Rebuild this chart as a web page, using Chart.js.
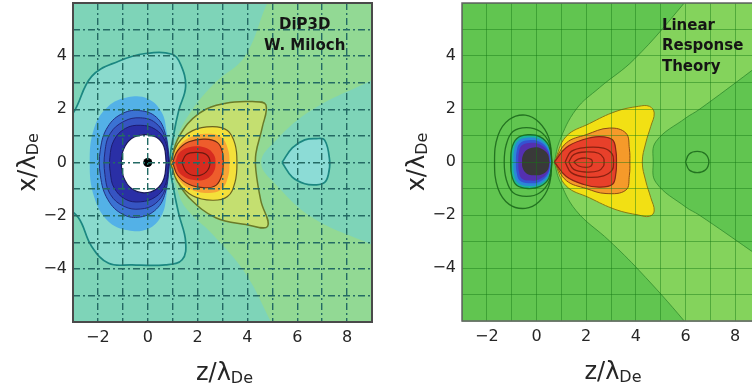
<!DOCTYPE html>
<html>
<head>
<meta charset="utf-8">
<title>Wake potential: DiP3D vs linear response</title>
<script src="https://cdn.jsdelivr.net/npm/chart.js@4.4.1/dist/chart.umd.min.js"></script>
<style>
  html, body { margin: 0; padding: 0; background: #fff; overflow: hidden; width: 752px; height: 386px; }
  .panel { position: absolute; top: 0; }
  #simPanel { left: 0; }
  #theoryPanel { left: 380px; }
</style>
</head>
<body>
<div class="panel" id="simPanel"><canvas id="simCanvas" width="380" height="386"></canvas></div>
<div class="panel" id="theoryPanel"><canvas id="theoryCanvas" width="392" height="386"></canvas></div>
<script>
// ---- contour outlines, [z, x] in units of lambda_De ----

// DiP3D (simulation)
const simCone = [[0.92, 0], [1.2, 1.0], [1.8, 2.0], [2.7, 3.0], [3.9, 4.0], [4.8, 6.0], [5.2, 6.6], [9.6, 6.6], [9.6, 3.4],
  [9, 3.1], [6.6, 1.98], [5.15, 0.84], [4.55, 0], [5.15, -0.84], [6.62, -2.08], [9, -3.09], [9.6, -3.3], [9.6, -6.6],
  [5.3, -6.6], [4.95, -6.0], [3.94, -4.2], [2.6, -2.7], [1.52, -1.7], [1.15, -0.9], [0.92, 0]];
const simLobe = [[-3.4, -1.6], [-2.78, -2.08], [-2.25, -3.16], [-1.57, -3.79], [-0.63, -3.85], [0.71, -3.85], [1.38, -3.66],
  [1.52, -2.97], [1.25, -1.95], [1.05, -1.06], [0.89, 0], [1.05, 1.1], [1.25, 1.98], [1.52, 2.86], [1.32, 3.69],
  [0.98, 4.07], [-0.09, 4.1], [-1.17, 3.81], [-2.25, 3.24], [-3.0, 1.85], [-3.4, 1.6]];
const simTailLobe = [[5.39, 0], [5.8, 0.55], [6.3, 0.85], [6.76, 0.9], [7.1, 0.84], [7.3, 0.07], [7.25, -0.45],
  [7.1, -0.75], [6.76, -0.84], [6.3, -0.8], [5.8, -0.55], [5.39, 0]];
const simPos1 = [[0.91, 0], [1.25, 0.96], [2.06, 1.85], [3.13, 2.23], [4.2, 2.29], [4.74, 2.17], [4.6, 1.34], [4.34, 0.33],
  [4.34, -0.3], [4.54, -1.44], [4.81, -2.4], [3.94, -2.33], [2.73, -2.08], [1.65, -1.32], [1.18, -0.68], [0.91, 0]];
const simPos2 = [[0.92, 0], [1.2, 0.7], [1.8, 1.2], [2.6, 1.35], [3.2, 1.2], [3.5, 0.7], [3.58, 0], [3.5, -0.75],
  [3.2, -1.28], [2.6, -1.42], [1.8, -1.25], [1.2, -0.72], [0.92, 0]];
const simPos3 = [[0.95, 0], [1.2, 0.55], [1.7, 0.95], [2.4, 1.08], [2.95, 0.95], [3.22, 0.5], [3.28, 0], [3.22, -0.55],
  [2.95, -1.02], [2.4, -1.15], [1.7, -1.0], [1.2, -0.58], [0.95, 0]];
const simPos4 = [[1.0, 0], [1.2, 0.45], [1.65, 0.78], [2.3, 0.88], [2.8, 0.75], [3.0, 0.38], [3.03, 0], [2.98, -0.45],
  [2.75, -0.85], [2.3, -0.95], [1.65, -0.82], [1.2, -0.48], [1.0, 0]];
const simPos5 = [[1.1, 0], [1.3, 0.4], [1.8, 0.6], [2.35, 0.55], [2.65, 0.3], [2.72, 0], [2.65, -0.35], [2.35, -0.62],
  [1.8, -0.65], [1.3, -0.42], [1.1, 0]];
const simPos6 = [[1.37, 0], [1.55, 0.3], [1.95, 0.38], [2.35, 0.3], [2.5, 0], [2.35, -0.35], [1.95, -0.5], [1.55, -0.35], [1.37, 0]];
const simNeg1 = [[0.9, 0], [0.75, 1.2], [0.55, 1.9], [0.0, 2.4], [-0.8, 2.45], [-1.6, 2.1], [-2.15, 1.3], [-2.33, 0],
  [-2.15, -1.3], [-1.6, -2.2], [-0.8, -2.55], [0.0, -2.5], [0.55, -2.0], [0.75, -1.25], [0.9, 0]];
const simNeg2 = [[0.88, 0], [0.7, 1.1], [0.35, 1.7], [-0.3, 1.95], [-1.0, 1.85], [-1.6, 1.35], [-1.9, 0.5], [-1.9, -0.5],
  [-1.6, -1.4], [-1.0, -1.95], [-0.3, -2.05], [0.35, -1.75], [0.7, -1.15], [0.88, 0]];
const simNeg3 = [[0.86, 0], [0.7, 0.95], [0.3, 1.5], [-0.3, 1.68], [-0.95, 1.55], [-1.5, 1.1], [-1.72, 0.4], [-1.72, -0.45],
  [-1.5, -1.2], [-0.95, -1.65], [-0.3, -1.75], [0.3, -1.55], [0.7, -1.0], [0.86, 0]];
const simNeg4 = [[0.84, 0], [0.7, 0.8], [0.3, 1.25], [-0.3, 1.4], [-0.9, 1.28], [-1.35, 0.85], [-1.52, 0.2], [-1.5, -0.4],
  [-1.35, -0.95], [-0.9, -1.38], [-0.3, -1.48], [0.3, -1.3], [0.7, -0.85], [0.84, 0]];
const simCore = [[0.74, 0], [0.65, 0.6], [0.35, 0.95], [-0.15, 1.05], [-0.65, 0.9], [-0.97, 0.5], [-1.06, 0],
  [-0.97, -0.55], [-0.65, -0.98], [-0.15, -1.14], [0.35, -1.0], [0.65, -0.6], [0.74, 0]];
const grain = [[0, 0]];

// Linear response theory
const lrtCone = [[0.72, 0], [0.92, 0.77], [1.59, 1.98], [2.53, 2.8], [3.94, 3.88], [5.95, 6.0], [6.4, 6.6], [9.6, 6.6],
  [9.6, 4.0], [9, 3.7], [8.64, 3.43], [6.55, 1.98], [6.01, 1.66], [4.81, 0.77], [4.7, 0], [4.81, -0.77], [6.01, -1.7],
  [6.55, -2.0], [8.64, -3.35], [9, -3.6], [9.6, -4.0], [9.6, -6.6], [6.4, -6.6], [5.95, -6.0], [4.14, -4.1],
  [2.93, -2.97], [1.59, -1.83], [0.92, -0.68], [0.72, 0]];
const lrtTailRing = [[6.0, 0], [6.15, 0.3], [6.47, 0.4], [6.8, 0.3], [6.94, 0], [6.8, -0.3], [6.47, -0.4], [6.15, -0.3], [6.0, 0]];
const lrtNegLine1 = [[0.62, 0], [0.5, 0.9], [0.1, 1.5], [-0.45, 1.77], [-1.1, 1.6], [-1.55, 1.0], [-1.69, 0], [-1.55, -1.0],
  [-1.1, -1.6], [-0.45, -1.75], [0.1, -1.5], [0.5, -0.9], [0.62, 0]];
const lrtNegLine2 = [[0.62, 0], [0.52, 0.7], [0.15, 1.15], [-0.4, 1.3], [-0.95, 1.15], [-1.22, 0.65], [-1.3, 0],
  [-1.22, -0.65], [-0.95, -1.15], [-0.4, -1.3], [0.15, -1.15], [0.52, -0.7], [0.62, 0]];
const lrtNeg1 = [[0.6, 0], [0.5, 0.6], [0.15, 0.95], [-0.35, 1.03], [-0.8, 0.88], [-1.0, 0.5], [-1.04, 0], [-1.0, -0.5],
  [-0.8, -0.88], [-0.35, -1.0], [0.15, -0.92], [0.5, -0.6], [0.6, 0]];
const lrtNeg2 = [[0.58, 0], [0.48, 0.52], [0.12, 0.86], [-0.35, 0.92], [-0.75, 0.78], [-0.9, 0.45], [-0.93, 0],
  [-0.9, -0.45], [-0.75, -0.78], [-0.35, -0.9], [0.12, -0.84], [0.48, -0.52], [0.58, 0]];
const lrtNeg3 = [[0.56, 0], [0.46, 0.46], [0.1, 0.77], [-0.33, 0.82], [-0.68, 0.7], [-0.8, 0.4], [-0.83, 0],
  [-0.8, -0.4], [-0.68, -0.7], [-0.33, -0.8], [0.1, -0.75], [0.46, -0.46], [0.56, 0]];
const lrtNeg4 = [[0.55, 0], [0.45, 0.4], [0.1, 0.68], [-0.3, 0.72], [-0.6, 0.62], [-0.71, 0.35], [-0.73, 0],
  [-0.71, -0.35], [-0.6, -0.62], [-0.3, -0.7], [0.1, -0.66], [0.45, -0.4], [0.55, 0]];
const lrtCore = [[0.52, 0], [0.45, 0.3], [0.2, 0.5], [-0.1, 0.55], [-0.4, 0.45], [-0.56, 0.22], [-0.58, 0],
  [-0.56, -0.22], [-0.4, -0.43], [-0.1, -0.5], [0.2, -0.47], [0.45, -0.3], [0.52, 0]];
const lrtPos1 = [[0.72, 0], [1.19, 0.96], [2.13, 1.45], [3.2, 1.91], [4.1, 2.1], [4.55, 2.1], [4.74, 1.85], [4.6, 1.34],
  [4.4, 0.72], [4.26, 0], [4.4, -0.72], [4.6, -1.34], [4.74, -1.85], [4.55, -2.05], [4.1, -2.0], [3.2, -1.8],
  [2.13, -1.35], [1.19, -0.9], [0.72, 0]];
const lrtPos2 = [[0.72, 0], [1.2, 0.72], [2.0, 1.03], [2.93, 1.28], [3.6, 1.09], [3.74, 0.5], [3.76, 0], [3.74, -0.5],
  [3.6, -1.06], [2.8, -1.19], [2.0, -1.0], [1.2, -0.7], [0.72, 0]];
const lrtPos3 = [[0.72, 0], [1.2, 0.55], [1.9, 0.85], [2.53, 0.96], [3.06, 0.84], [3.2, 0.4], [3.22, 0], [3.2, -0.4],
  [3.06, -0.84], [2.53, -0.95], [1.9, -0.85], [1.2, -0.55], [0.72, 0]];
const lrtPos4 = [[1.15, 0], [1.4, 0.4], [2.0, 0.55], [2.7, 0.52], [3.05, 0.3], [3.1, 0], [3.05, -0.3], [2.7, -0.52],
  [2.0, -0.57], [1.4, -0.4], [1.15, 0]];
const lrtPos5 = [[1.3, 0], [1.5, 0.28], [2.0, 0.38], [2.5, 0.33], [2.7, 0.15], [2.72, 0], [2.7, -0.15], [2.5, -0.33],
  [2.0, -0.38], [1.5, -0.28], [1.3, 0]];
const lrtPos6 = [[1.5, 0], [1.7, 0.12], [2.0, 0.15], [2.2, 0.1], [2.25, 0], [2.2, -0.15], [2.0, -0.2], [1.7, -0.15], [1.5, 0]];

// axes
const zTickLabels = [-2, 0, 2, 4, 6, 8];
const xTickLabels = [-4, -2, 0, 2, 4];
const simNote = ['DiP3D', 'W. Miloch'];
const lrtNote = ['Linear', 'Response', 'Theory'];

const FONT = '"DejaVu Sans", Verdana, sans-serif';
const INK = '#262626';
const fmt = v => (v < 0 ? '\u2212' + Math.abs(v) : String(v));

// one filled / outlined contour band per entry, first entry at the bottom
function makeDatasets(layers) {
  return layers.map((l, i) => ({
    data: l.shape.map(([z, x]) => ({ x: z, y: x })),
    showLine: !l.dot,
    fill: l.fill ? 'shape' : false,
    backgroundColor: l.dot ? l.fill : (l.fill || 'transparent'),
    borderColor: l.line || 'transparent',
    borderWidth: l.line ? (l.width || 1.2) : 0,
    tension: 0.4,
    pointRadius: l.dot ? l.dot : 0,
    order: layers.length - i
  }));
}

function drawSubTitle(ctx, main, sub, x, y, angle) {
  ctx.save();
  ctx.translate(x, y);
  ctx.rotate(angle);
  ctx.font = '24px ' + FONT;
  const w1 = ctx.measureText(main).width;
  ctx.font = '16px ' + FONT;
  const w2 = ctx.measureText(sub).width;
  const x0 = -(w1 + w2) / 2;
  ctx.fillStyle = INK;
  ctx.textAlign = 'left';
  ctx.textBaseline = 'alphabetic';
  ctx.font = '24px ' + FONT;
  ctx.fillText(main, x0, 0);
  ctx.font = '16px ' + FONT;
  ctx.fillText(sub, x0 + w1, 3);
  ctx.restore();
}

const panelDecor = {
  id: 'panelDecor',
  beforeDatasetsDraw(chart, args, o) {
    const { ctx, chartArea: a } = chart;
    ctx.save();
    ctx.fillStyle = o.background;
    ctx.fillRect(a.left, a.top, a.width, a.height);
    ctx.restore();
  },
  afterDraw(chart, args, o) {
    const { ctx, chartArea: a, scales } = chart;
    ctx.save();
    ctx.strokeStyle = o.frame;
    ctx.lineWidth = o.frameWidth;
    ctx.strokeRect(a.left, a.top, a.width, a.height);

    ctx.fillStyle = '#151515';
    ctx.font = 'bold 15px ' + FONT;
    ctx.textAlign = o.noteAlign;
    ctx.textBaseline = 'middle';
    const nx = scales.x.getPixelForValue(o.noteAt[0]);
    const ny = scales.y.getPixelForValue(o.noteAt[1]);
    o.note.forEach((t, i) => ctx.fillText(t, nx, ny + i * o.noteGap));
    ctx.restore();

    drawSubTitle(ctx, 'z/\u03bb', 'De', (a.left + a.right) / 2 + 2, a.bottom + 58, 0);
    drawSubTitle(ctx, 'x/\u03bb', 'De', a.left - 38, (a.top + a.bottom) / 2, -Math.PI / 2);
  }
};

function makePanel(canvas, layers, p) {
  return new Chart(canvas, {
    type: 'scatter',
    data: { datasets: makeDatasets(layers) },
    options: {
      responsive: false,
      animation: false,
      events: [],
      layout: { autoPadding: false, padding: { top: 3, right: p.padRight, bottom: 0, left: 0 } },
      scales: {
        x: {
          type: 'linear', min: -3, max: 9,
          afterFit: s => { s.height = p.xHeight; s.paddingLeft = 0; s.paddingRight = 0; },
          ticks: {
            stepSize: 1, autoSkip: false, maxRotation: 0, padding: 6, color: INK,
            font: { family: FONT, size: 16 },
            callback: v => (zTickLabels.includes(v) ? fmt(v) : '')
          },
          grid: { z: 1, color: p.gridColor, lineWidth: p.gridWidth, drawTicks: false },
          border: { display: false, dash: p.gridDash }
        },
        y: {
          type: 'linear', min: -6, max: 6,
          afterFit: s => { s.width = p.yWidth; s.paddingTop = 0; s.paddingBottom = 0; },
          ticks: {
            stepSize: 1, autoSkip: false, padding: 6, color: INK,
            font: { family: FONT, size: 16 },
            callback: v => (xTickLabels.includes(v) ? fmt(v) : '')
          },
          grid: { z: 1, color: p.gridColor, lineWidth: p.gridWidth, drawTicks: false },
          border: { display: false, dash: p.gridDash }
        }
      },
      plugins: {
        legend: { display: false },
        tooltip: { enabled: false },
        panelDecor: p.decor
      }
    },
    plugins: [panelDecor]
  });
}

// left: DiP3D simulation
const teal = '#1b8781';
makePanel(document.getElementById('simCanvas'), [
  { shape: simCone, fill: '#92d994' },
  { shape: simLobe, fill: '#8adacd', line: teal, width: 1.7 },
  { shape: simTailLobe, fill: '#8cdcd6', line: teal, width: 1.7 },
  { shape: simPos1, fill: '#c4df70', line: '#6a7a28', width: 1.5 },
  { shape: simPos2, fill: '#f4e03a', line: '#6a6420', width: 1.2 },
  { shape: simPos3, fill: '#f7a535' },
  { shape: simPos4, fill: '#ee5d2c', line: '#6a2a12', width: 1.1 },
  { shape: simPos5, fill: '#d72b1f' },
  { shape: simPos6, line: '#6a1a10', width: 1.1 },
  { shape: simNeg1, fill: '#53b1e7' },
  { shape: simNeg2, fill: '#3b72d3', line: '#22307f', width: 1 },
  { shape: simNeg3, fill: '#3654c2', line: '#22287a', width: 1 },
  { shape: simNeg4, fill: '#2a2fa6', line: '#1c1c70', width: 1 },
  { shape: simCore, fill: '#ffffff', line: '#1a1a55', width: 1.2 },
  { shape: grain, fill: '#000000', dot: 4.5 }
], {
  padRight: 8, xHeight: 64, yWidth: 73,
  gridColor: '#246a64', gridWidth: 1.4, gridDash: [7, 3, 2, 3],
  decor: {
    background: '#7ed4b8', frame: '#4a4a4a', frameWidth: 2,
    note: simNote, noteAt: [6.3, 5.15], noteAlign: 'center', noteGap: 21
  }
});

// right: linear response theory
const darkGreen = 'rgba(25, 100, 25, 0.85)';
makePanel(document.getElementById('theoryCanvas'), [
  { shape: lrtCone, fill: '#84d35c', line: 'rgba(40, 130, 40, 0.7)', width: 1 },
  { shape: lrtTailRing, line: darkGreen, width: 1.3 },
  { shape: lrtNegLine1, line: darkGreen, width: 1.3 },
  { shape: lrtNegLine2, line: darkGreen, width: 1.3 },
  { shape: lrtNeg1, fill: '#1cb39c', line: darkGreen, width: 1.3 },
  { shape: lrtNeg2, fill: '#2a88d6' },
  { shape: lrtNeg3, fill: '#3552d2' },
  { shape: lrtNeg4, fill: '#5430b0' },
  { shape: lrtCore, fill: '#393939' },
  { shape: lrtPos1, fill: '#f2e014', line: '#8a7a14', width: 1 },
  { shape: lrtPos2, fill: '#f59a2a', line: '#8a4a14', width: 1 },
  { shape: lrtPos3, fill: '#e8402a', line: '#8a2414', width: 1.2 },
  { shape: lrtPos4, line: '#8a2010', width: 1.3 },
  { shape: lrtPos5, line: '#8a2010', width: 1.3 },
  { shape: lrtPos6, line: '#8a2010', width: 1.3 }
], {
  padRight: 12, xHeight: 65, yWidth: 82,
  gridColor: 'rgba(20, 120, 20, 0.45)', gridWidth: 1, gridDash: [],
  decor: {
    background: '#61c550', frame: '#666666', frameWidth: 1.5,
    note: lrtNote, noteAt: [5.05, 5.13], noteAlign: 'left', noteGap: 20.5
  }
});
</script>
</body>
</html>
